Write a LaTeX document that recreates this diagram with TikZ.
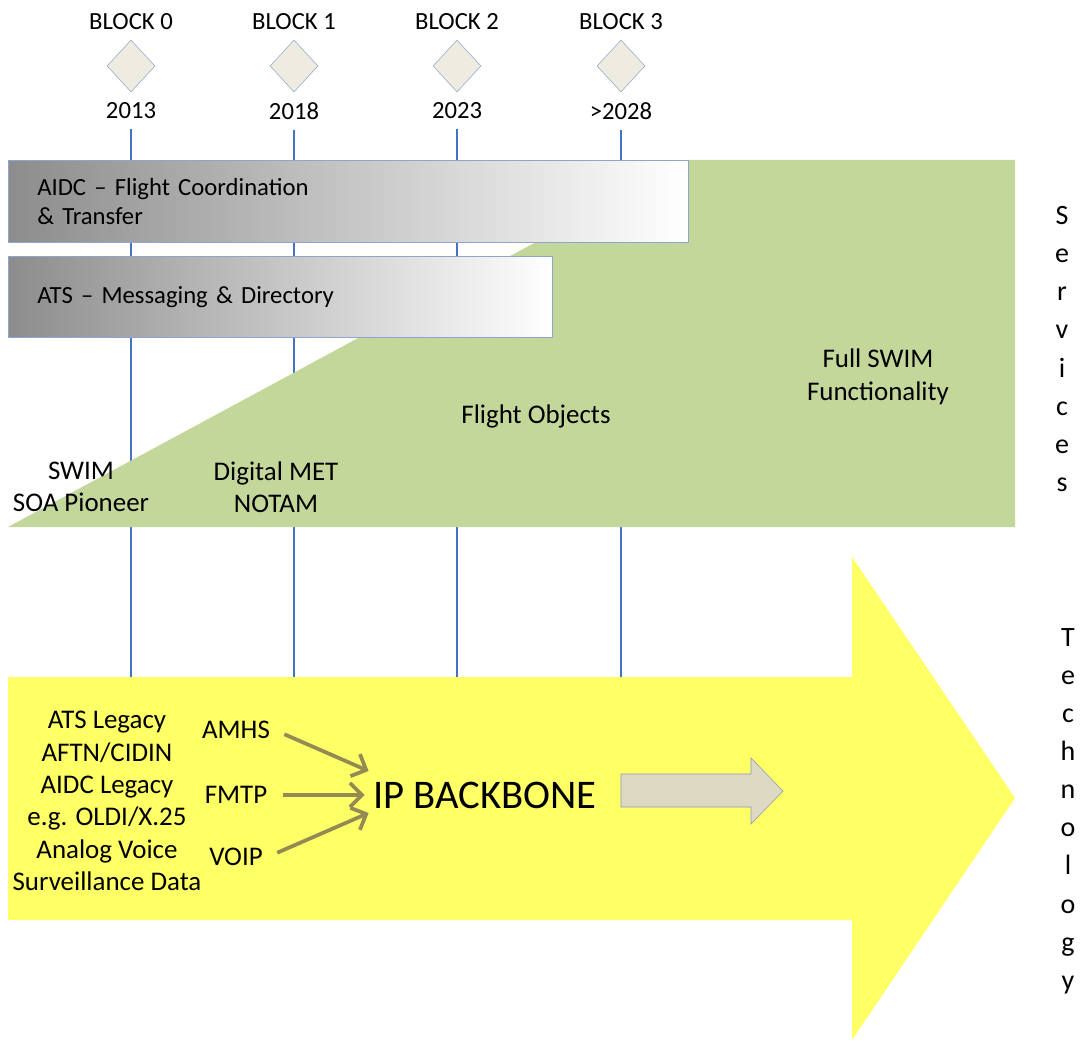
\documentclass[tikz,border=0pt]{standalone}
\usepackage{fontspec}
\setmainfont{Carlito}
\usetikzlibrary{shapes.geometric,arrows.meta,positioning}
\definecolor{milestonefill}{RGB}{238,236,225}
\definecolor{edgeblue}{RGB}{143,165,205}
\definecolor{lineblue}{RGB}{68,114,196}
\definecolor{swimgreen}{RGB}{196,215,155}
\definecolor{techyellow}{RGB}{255,255,102}
\definecolor{feedolive}{RGB}{148,138,84}
\definecolor{pipegray}{RGB}{221,217,195}
\newcommand{\bodyfont}{\fontsize{18.5}{24.3}\selectfont}
\newcommand{\tagfont}{\fontsize{20.2}{24.3}\selectfont}
\newcommand{\barfont}{\fontsize{18.5}{21.75}\selectfont}
\newcommand{\spelledfont}{\fontsize{21}{28.6}\selectfont}
\tikzstyle{milestone} = [diamond, draw=edgeblue, fill=milestonefill, minimum width=36pt, minimum height=39pt, inner sep=0pt]
\tikzstyle{bar} = [draw=edgeblue, left color=black!45, right color=white, anchor=north west, inner xsep=21.75pt, align=left, font=\barfont]
\tikzstyle{tag} = [align=center, font=\tagfont]
\tikzstyle{timeline} = [draw=lineblue, line width=1.2pt, shorten <=4pt]
\tikzstyle{spelled} = [align=center, font=\spelledfont]
\tikzset{
  feed/.style ={draw=feedolive, line width=2.8pt, -{Straight Barb[length=9pt,width=18pt]}, shorten <=8pt}
}

\begin{document}
\begin{tikzpicture}[x=0.75pt,y=-0.75pt,every node/.style={font=\bodyfont, align=center}]
  \useasboundingbox (0,0) rectangle (1082,1041);

  \node (block_0) at (131,22) {BLOCK 0};
  \node (block_1) at (294,22) {BLOCK 1};
  \node (block_2) at (457,22) {BLOCK 2};
  \node (block_3) at (621,22) {BLOCK 3};
  \node[milestone] (mark_0) at (131,66) {};
  \node[milestone] (mark_1) at (294,66) {};
  \node[milestone] (mark_2) at (457,66) {};
  \node[milestone] (mark_3) at (621,66) {};
  \node (year_0) at (131,111) {2013};
  \node (year_1) at (294,111) {2018};
  \node (year_2) at (457,111) {2023};
  \node (year_3) at (621,111) {>2028};

  \coordinate (foot_0) at (131,690);
  \coordinate (foot_1) at (294,690);
  \coordinate (foot_2) at (457,690);
  \coordinate (foot_3) at (621,690);
  \path[timeline] (year_0.south) -- (foot_0);
  \path[timeline] (year_1.south) -- (foot_1);
  \path[timeline] (year_2.south) -- (foot_2);
  \path[timeline] (year_3.south) -- (foot_3);

  \fill[swimgreen] (8,527) -- (688,160) -- (1015,160) -- (1015,527) -- cycle;
  \fill[techyellow] (8,677) -- (852,677) -- (852,557) -- (1015,798) -- (852,1040) -- (852,920) -- (8,920) -- cycle;
  \filldraw[fill=pipegray, draw=edgeblue!70!gray] (621,774) -- (751,774) -- (751,758) -- (783,791) -- (751,824) -- (751,807) -- (621,807) -- cycle;

  \node[bar, minimum width=510pt, minimum height=61.5pt, text width=466.5pt] (aidc_bar) at (8,160) {AIDC -- Flight Coordination\\ \& Transfer};
  \node[bar, minimum width=408pt, minimum height=60.75pt, text width=364.5pt] (ats_bar) at (8,256) {ATS -- Messaging \& Directory};

  \node[tag] (swim_pioneer) at (81,487) {SWIM\\SOA Pioneer};
  \node[tag] (digital_met) at (276,487) {Digital MET\\NOTAM};
  \node[tag] (flight_objects) at (536,416) {Flight Objects};
  \node[tag] (full_swim) at (878,377) {Full SWIM\\Functionality};
  \node[spelled] (services) at (1062,349) {S\\e\\r\\v\\i\\c\\e\\s};
  \node[spelled] (technology) at (1068,811) {T\\e\\c\\h\\n\\o\\l\\o\\g\\y};

  \node[tag] (legacy) at (107,801) {ATS Legacy\\AFTN/CIDIN\\AIDC Legacy\\e.g. OLDI/X.25\\Analog Voice\\Surveillance Data};
  \node[tag] (amhs) at (236,730) {AMHS};
  \node[tag] (fmtp) at (236,795) {FMTP};
  \node[tag] (voip) at (236,857) {VOIP};
  \node[font=\fontsize{30.5}{36}\selectfont] (ip_backbone) at (485,795) {IP BACKBONE};

  \path[feed] (amhs.east) -- ([yshift=18pt]ip_backbone.west);
  \path[feed] (fmtp.east) -- ([xshift=-3pt]ip_backbone.west);
  \path[feed] (voip.east) -- ([yshift=-13.5pt]ip_backbone.west);

\end{tikzpicture}
\end{document}
